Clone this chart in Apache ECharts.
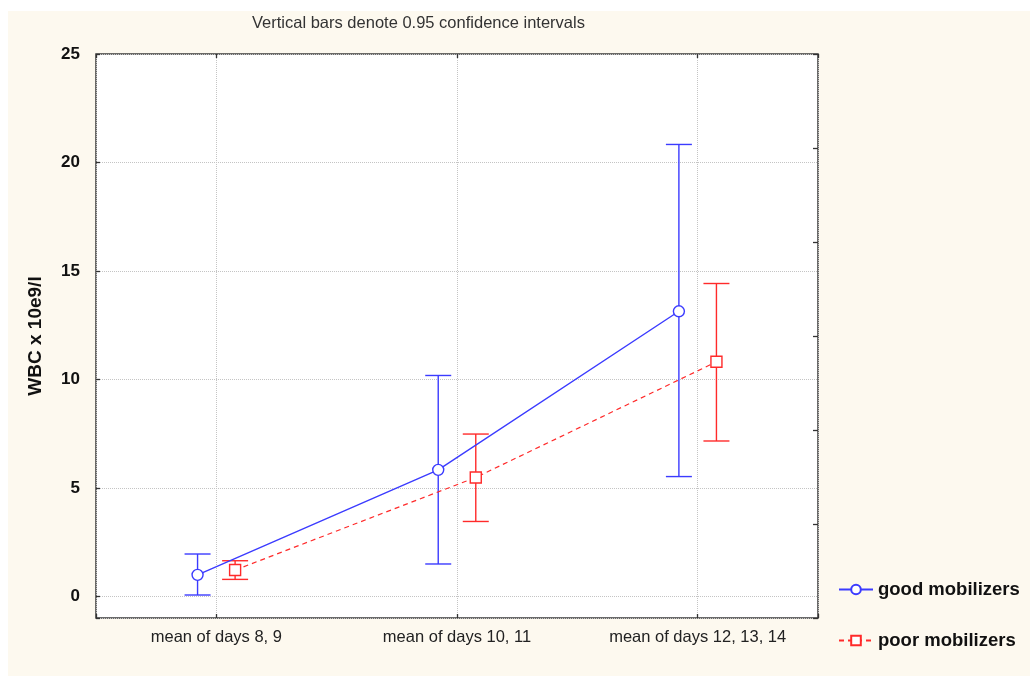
<!DOCTYPE html>
<html>
<head>
<meta charset="utf-8">
<script src="https://cdn.jsdelivr.net/npm/echarts@6/dist/echarts.min.js"></script>
<style>
  html, body { margin: 0; padding: 0; background: #ffffff; }
  #panel { position: absolute; left: 8px; top: 11px; width: 1022px; height: 665px; background: #fdf9ef; }
  #chart { position: absolute; left: 0; top: 0; width: 1030px; height: 676px; }
</style>
</head>
<body>
<div id="panel"></div>
<div id="chart"></div>
<script>
// Sampling periods on the x axis
const categories = ['mean of days 8, 9', 'mean of days 10, 11', 'mean of days 12, 13, 14'];

// WBC (x 10e9/l): means with 95% confidence limits
const goodMean = [0.99, 5.83, 13.14];
const goodLow  = [0.06, 1.49, 5.52];
const goodHigh = [1.95, 10.18, 20.83];

const poorMean = [1.21, 5.48, 10.81];
const poorLow  = [0.78, 3.45, 7.16];
const poorHigh = [1.64, 7.48, 14.42];

const seriesNames = ['good mobilizers', 'poor mobilizers'];
const titleText = 'Vertical bars denote 0.95 confidence intervals';
const yName = 'WBC x 10e9/l';

// the two groups are drawn slightly apart around each category
const SHIFT = 0.078;
const BLUE = '#3b3bff';
const RED = '#ff2a2a';
const FONT = 'Liberation Sans, Arial, sans-serif';

const goodPts = goodMean.map((v, i) => [i - SHIFT, v]);
const poorPts = poorMean.map((v, i) => [i + SHIFT, v]);
const goodBars = goodMean.map((v, i) => [i - SHIFT, goodLow[i], goodHigh[i]]);
const poorBars = poorMean.map((v, i) => [i + SHIFT, poorLow[i], poorHigh[i]]);

function errorBar(color) {
  return function (params, api) {
    const x = api.value(0);
    const lo = api.coord([x, api.value(1)]);
    const hi = api.coord([x, api.value(2)]);
    const w = 13;
    const style = { stroke: color, lineWidth: 1.4 };
    return {
      type: 'group',
      children: [
        { type: 'line', shape: { x1: hi[0], y1: hi[1], x2: lo[0], y2: lo[1] }, style },
        { type: 'line', shape: { x1: hi[0] - w, y1: hi[1], x2: hi[0] + w, y2: hi[1] }, style },
        { type: 'line', shape: { x1: lo[0] - w, y1: lo[1], x2: lo[0] + w, y2: lo[1] }, style }
      ]
    };
  };
}

const catLabel = v => (Math.abs(v - Math.round(v)) < 1e-6 && v >= 0 && v < categories.length) ? categories[Math.round(v)] : '';

const tickStyle = { color: '#333', width: 1.3 };
const gridLine = { show: true, lineStyle: { color: '#c4c4c4', type: 'dotted', width: 1 } };

const chart = echarts.init(document.getElementById('chart'), null, { renderer: 'canvas' });
chart.setOption({
  animation: false,
  backgroundColor: 'transparent',
  title: {
    text: titleText,
    left: 247, top: 10,
    textStyle: { fontFamily: FONT, fontSize: 16.5, fontWeight: 'normal', color: '#333' }
  },
  grid: {
    left: 96, right: 212, top: 54, bottom: 58,
    show: true, backgroundColor: '#ffffff', borderColor: '#3a3a3a', borderWidth: 1.5
  },
  legend: {
    orient: 'vertical',
    left: 833, top: 574,
    itemWidth: 34, itemHeight: 12, itemGap: 30,
    textStyle: { fontFamily: FONT, fontSize: 18.5, fontWeight: 'bold', color: '#111', lineHeight: 21 },
    data: seriesNames
  },
  xAxis: [
    {
      type: 'value', position: 'bottom',
      min: -0.5, max: 2.5, minInterval: 1, maxInterval: 1,
      axisLine: { show: false, onZero: false },
      axisTick: { show: true, inside: true, length: 4, lineStyle: tickStyle },
      axisLabel: { formatter: catLabel, fontFamily: FONT, fontSize: 16.5, color: '#222', margin: 11 },
      splitLine: gridLine
    },
    {
      type: 'value', position: 'top',
      min: -0.5, max: 2.5, minInterval: 1, maxInterval: 1,
      axisLine: { show: false, onZero: false },
      axisTick: { show: true, inside: true, length: 4, lineStyle: tickStyle },
      axisLabel: { show: false },
      splitLine: { show: false }
    }
  ],
  yAxis: [
    {
      type: 'value', position: 'left',
      min: -1, max: 25, minInterval: 5, maxInterval: 5,
      name: yName, nameLocation: 'middle', nameGap: 51,
      nameTextStyle: { fontFamily: FONT, fontSize: 19, fontWeight: 'bold', color: '#111' },
      axisLine: { show: false, onZero: false },
      axisTick: { show: true, inside: true, length: 4, lineStyle: tickStyle },
      axisLabel: { formatter: v => (v < 0 ? '' : String(v)), fontFamily: FONT, fontSize: 17, fontWeight: 'bold', color: '#111', margin: 16 },
      splitLine: gridLine
    },
    {
      type: 'value', position: 'right',
      min: 0, max: 6, minInterval: 1, maxInterval: 1,
      axisLine: { show: false, onZero: false },
      axisTick: { show: true, inside: true, length: 5, lineStyle: tickStyle },
      axisLabel: { show: false },
      splitLine: { show: false }
    }
  ],
  series: [
    {
      name: seriesNames[0] + ' CI', type: 'custom', xAxisIndex: 0, yAxisIndex: 0,
      renderItem: errorBar(BLUE), data: goodBars, z: 2, silent: true
    },
    {
      name: seriesNames[1] + ' CI', type: 'custom', xAxisIndex: 0, yAxisIndex: 0,
      renderItem: errorBar(RED), data: poorBars, z: 2, silent: true
    },
    {
      name: seriesNames[0], type: 'line', xAxisIndex: 0, yAxisIndex: 0,
      data: goodPts, symbol: 'circle', symbolSize: 11, z: 4,
      lineStyle: { color: BLUE, width: 1.4 },
      itemStyle: { color: '#ffffff', borderColor: BLUE, borderWidth: 1.4 }
    },
    {
      name: seriesNames[1], type: 'line', xAxisIndex: 0, yAxisIndex: 0,
      data: poorPts, symbol: 'rect', symbolSize: 11, z: 3,
      lineStyle: { color: RED, width: 1.2, type: [5, 4] },
      itemStyle: { color: '#ffffff', borderColor: RED, borderWidth: 1.4 }
    }
  ]
});
</script>
</body>
</html>
